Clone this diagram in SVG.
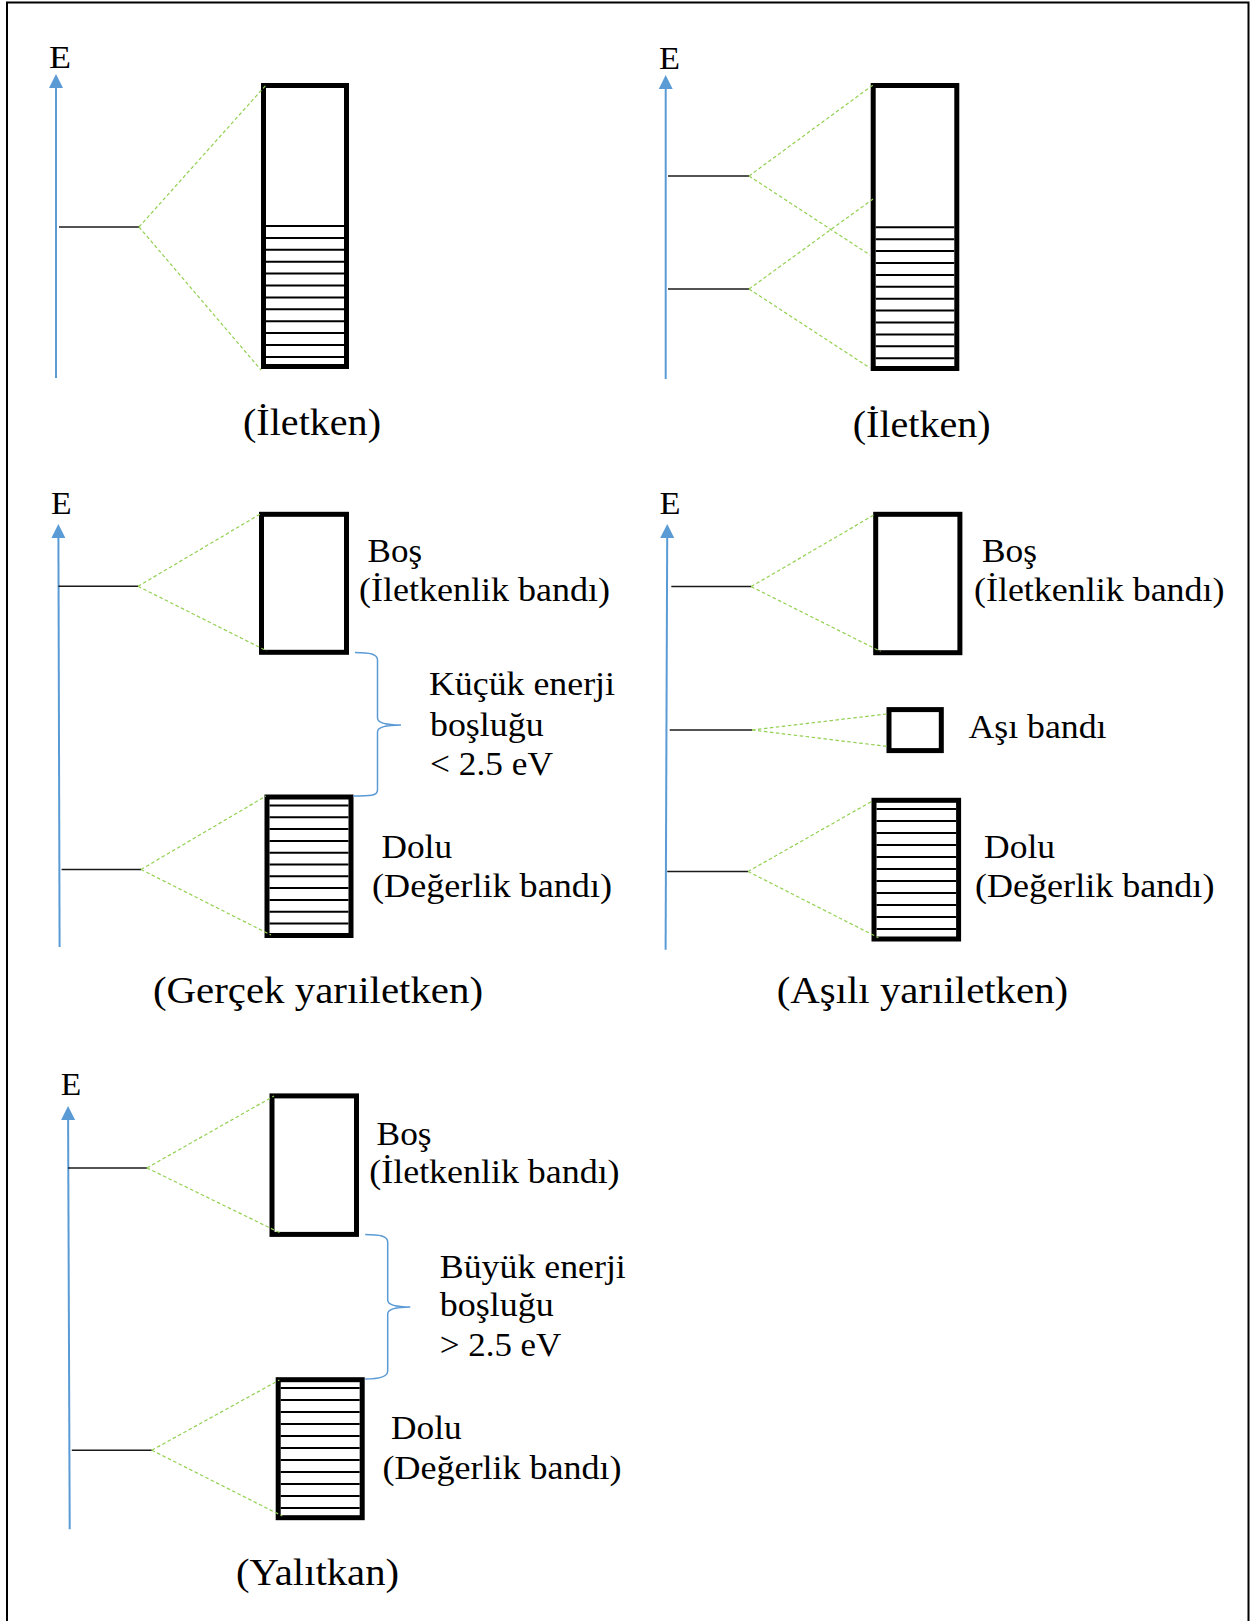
<svg xmlns="http://www.w3.org/2000/svg" width="1250" height="1621" viewBox="0 0 1250 1621">
<style>
text{font-family:"Liberation Serif","Times New Roman",serif;fill:#000}
.e{font-size:31px}
.lab{font-size:34px}
.ttl{font-size:38px}
.axis{stroke:#5B9BD5;stroke-width:2;fill:none}
.lvl{stroke:#1a1a1a;stroke-width:1.5}
.band{fill:#fff;stroke:#000;stroke-width:5}
.hat{stroke:#000;stroke-width:2}
.dash{stroke:#92D050;stroke-width:1.2;stroke-dasharray:3.5 2.5;fill:none}
.brace{stroke:#5B9BD5;stroke-width:1.5;fill:none}
</style>
<defs>
<marker id="arr" markerUnits="userSpaceOnUse" markerWidth="14" markerHeight="14" viewBox="0 0 14 14" refX="0" refY="7" orient="auto">
<path d="M0,0 L14,7 L0,14 z" fill="#5B9BD5"/>
</marker>
</defs>
<rect x="0" y="0" width="1250" height="1621" fill="#fff"/>
<path d="M7,1621 L7,2.5 L1248.5,2.5 L1248.5,1621" fill="none" stroke="#000" stroke-width="2"/>

<!-- Panel 1 -->
<g id="p1-axis">
<line class="axis" x1="56" y1="378" x2="56" y2="88" marker-end="url(#arr)"/>
<text class="e" x="49" y="68" textLength="22" lengthAdjust="spacingAndGlyphs">E</text>
</g>
<g id="p1-level"><line class="lvl" x1="59" y1="227" x2="139" y2="227"/></g>
<g id="p1-band">
<rect class="band" x="263.5" y="85.5" width="83" height="281"/>
<g class="hat">
<line x1="266" y1="226" x2="344" y2="226"/><line x1="266" y1="237.9" x2="344" y2="237.9"/><line x1="266" y1="249.8" x2="344" y2="249.8"/><line x1="266" y1="261.7" x2="344" y2="261.7"/><line x1="266" y1="273.6" x2="344" y2="273.6"/><line x1="266" y1="285.5" x2="344" y2="285.5"/><line x1="266" y1="297.4" x2="344" y2="297.4"/><line x1="266" y1="309.3" x2="344" y2="309.3"/><line x1="266" y1="321.2" x2="344" y2="321.2"/><line x1="266" y1="333.1" x2="344" y2="333.1"/><line x1="266" y1="345" x2="344" y2="345"/><line x1="266" y1="356.9" x2="344" y2="356.9"/>
</g>
</g>
<g id="p1-title"><text class="ttl" x="243" y="435" textLength="138" lengthAdjust="spacingAndGlyphs">(İletken)</text></g>

<!-- Panel 2 -->
<g id="p2-axis">
<line class="axis" x1="665.7" y1="379" x2="665.7" y2="89" marker-end="url(#arr)"/>
<text class="e" x="659" y="69" textLength="21" lengthAdjust="spacingAndGlyphs">E</text>
</g>
<g id="p2-level1"><line class="lvl" x1="668" y1="176" x2="749" y2="176"/></g>
<g id="p2-level2"><line class="lvl" x1="668" y1="289" x2="749" y2="289"/></g>
<g id="p2-band">
<rect class="band" x="873.2" y="85.5" width="83.6" height="283"/>
<g class="hat">
<line x1="875.7" y1="227.3" x2="954.3" y2="227.3"/><line x1="875.7" y1="239.2" x2="954.3" y2="239.2"/><line x1="875.7" y1="251.1" x2="954.3" y2="251.1"/><line x1="875.7" y1="263" x2="954.3" y2="263"/><line x1="875.7" y1="274.9" x2="954.3" y2="274.9"/><line x1="875.7" y1="286.8" x2="954.3" y2="286.8"/><line x1="875.7" y1="298.7" x2="954.3" y2="298.7"/><line x1="875.7" y1="310.6" x2="954.3" y2="310.6"/><line x1="875.7" y1="322.5" x2="954.3" y2="322.5"/><line x1="875.7" y1="334.4" x2="954.3" y2="334.4"/><line x1="875.7" y1="346.3" x2="954.3" y2="346.3"/><line x1="875.7" y1="358.2" x2="954.3" y2="358.2"/>
</g>
</g>
<g id="p2-title"><text class="ttl" x="852.7" y="437" textLength="138" lengthAdjust="spacingAndGlyphs">(İletken)</text></g>

<!-- Panel 3 -->
<g id="p3-axis">
<line class="axis" x1="59.6" y1="947" x2="58.4" y2="538" marker-end="url(#arr)"/>
<text class="e" x="51" y="513.6" textLength="20.6" lengthAdjust="spacingAndGlyphs">E</text>
</g>
<g id="p3-level1"><line class="lvl" x1="58.4" y1="586.3" x2="138" y2="586.3"/></g>
<g id="p3-level2"><line class="lvl" x1="61.6" y1="869.5" x2="141" y2="869.5"/></g>
<g id="p3-cond">
<rect class="band" x="261.5" y="514.3" width="85" height="138"/>
<text class="lab" x="367.6" y="562" textLength="54.4" lengthAdjust="spacingAndGlyphs">Boş</text>
<text class="lab" x="359" y="601" textLength="251" lengthAdjust="spacingAndGlyphs">(İletkenlik bandı)</text>
</g>
<g id="p3-gap">
<text class="lab" x="429" y="695" textLength="186" lengthAdjust="spacingAndGlyphs">Küçük enerji</text>
<text class="lab" x="430" y="735.5" textLength="113.6" lengthAdjust="spacingAndGlyphs">boşluğu</text>
<text class="lab" x="430" y="775" textLength="123" lengthAdjust="spacingAndGlyphs">&lt; 2.5 eV</text>
</g>
<g id="p3-val">
<rect class="band" x="267" y="797" width="84" height="138.5"/>
<g class="hat">
<line x1="269.5" y1="805.5" x2="348.5" y2="805.5"/><line x1="269.5" y1="817.3" x2="348.5" y2="817.3"/><line x1="269.5" y1="829.1" x2="348.5" y2="829.1"/><line x1="269.5" y1="840.9" x2="348.5" y2="840.9"/><line x1="269.5" y1="852.7" x2="348.5" y2="852.7"/><line x1="269.5" y1="864.5" x2="348.5" y2="864.5"/><line x1="269.5" y1="876.3" x2="348.5" y2="876.3"/><line x1="269.5" y1="888.1" x2="348.5" y2="888.1"/><line x1="269.5" y1="899.9" x2="348.5" y2="899.9"/><line x1="269.5" y1="911.7" x2="348.5" y2="911.7"/><line x1="269.5" y1="923.5" x2="348.5" y2="923.5"/>
</g>
<text class="lab" x="381.5" y="858.4" textLength="70.5" lengthAdjust="spacingAndGlyphs">Dolu</text>
<text class="lab" x="372" y="897" textLength="240" lengthAdjust="spacingAndGlyphs">(Değerlik bandı)</text>
</g>
<g id="p3-title"><text class="ttl" x="153" y="1003" textLength="330" lengthAdjust="spacingAndGlyphs">(Gerçek yarıiletken)</text></g>

<!-- Panel 4 -->
<g id="p4-axis">
<line class="axis" x1="665.6" y1="949.8" x2="667.2" y2="538" marker-end="url(#arr)"/>
<text class="e" x="659.6" y="513.6" textLength="21" lengthAdjust="spacingAndGlyphs">E</text>
</g>
<g id="p4-level1"><line class="lvl" x1="671.3" y1="586.6" x2="751.2" y2="586.6"/></g>
<g id="p4-level2"><line class="lvl" x1="669.7" y1="730" x2="752" y2="730"/></g>
<g id="p4-level3"><line class="lvl" x1="667.2" y1="871.5" x2="748" y2="871.5"/></g>
<g id="p4-cond">
<rect class="band" x="875.7" y="514.3" width="84.2" height="138.4"/>
<text class="lab" x="982" y="562" textLength="55" lengthAdjust="spacingAndGlyphs">Boş</text>
<text class="lab" x="974" y="601" textLength="250.5" lengthAdjust="spacingAndGlyphs">(İletkenlik bandı)</text>
</g>
<g id="p4-dopant">
<rect class="band" x="889" y="709.6" width="52.3" height="41"/>
<text class="lab" x="968.5" y="738" textLength="138" lengthAdjust="spacingAndGlyphs">Aşı bandı</text>
</g>
<g id="p4-val">
<rect class="band" x="874" y="800.3" width="84.6" height="138.7"/>
<g class="hat">
<line x1="876.5" y1="808.9" x2="956.1" y2="808.9"/><line x1="876.5" y1="820.9" x2="956.1" y2="820.9"/><line x1="876.5" y1="832.9" x2="956.1" y2="832.9"/><line x1="876.5" y1="844.9" x2="956.1" y2="844.9"/><line x1="876.5" y1="856.9" x2="956.1" y2="856.9"/><line x1="876.5" y1="868.9" x2="956.1" y2="868.9"/><line x1="876.5" y1="880.9" x2="956.1" y2="880.9"/><line x1="876.5" y1="892.9" x2="956.1" y2="892.9"/><line x1="876.5" y1="904.9" x2="956.1" y2="904.9"/><line x1="876.5" y1="916.9" x2="956.1" y2="916.9"/><line x1="876.5" y1="928.9" x2="956.1" y2="928.9"/>
</g>
<text class="lab" x="984" y="858.4" textLength="71" lengthAdjust="spacingAndGlyphs">Dolu</text>
<text class="lab" x="975" y="897" textLength="239.4" lengthAdjust="spacingAndGlyphs">(Değerlik bandı)</text>
</g>
<g id="p4-title"><text class="ttl" x="776.7" y="1003" textLength="291.5" lengthAdjust="spacingAndGlyphs">(Aşılı yarıiletken)</text></g>

<!-- Panel 5 -->
<g id="p5-axis">
<line class="axis" x1="69.7" y1="1529.3" x2="68.1" y2="1120" marker-end="url(#arr)"/>
<text class="e" x="60.7" y="1095" textLength="20.5" lengthAdjust="spacingAndGlyphs">E</text>
</g>
<g id="p5-level1"><line class="lvl" x1="68" y1="1167.9" x2="146.9" y2="1167.9"/></g>
<g id="p5-level2"><line class="lvl" x1="71.8" y1="1450.2" x2="151.8" y2="1450.2"/></g>
<g id="p5-cond">
<rect class="band" x="272" y="1095.9" width="84.5" height="138.5"/>
<text class="lab" x="376.6" y="1144.5" textLength="55" lengthAdjust="spacingAndGlyphs">Boş</text>
<text class="lab" x="369.3" y="1183" textLength="250.3" lengthAdjust="spacingAndGlyphs">(İletkenlik bandı)</text>
</g>
<g id="p5-gap">
<text class="lab" x="439.8" y="1277.6" textLength="186" lengthAdjust="spacingAndGlyphs">Büyük enerji</text>
<text class="lab" x="439.8" y="1316.4" textLength="114" lengthAdjust="spacingAndGlyphs">boşluğu</text>
<text class="lab" x="439.8" y="1355.6" textLength="121.5" lengthAdjust="spacingAndGlyphs">&gt; 2.5 eV</text>
</g>
<g id="p5-val">
<rect class="band" x="278.2" y="1379.7" width="84" height="138"/>
<g class="hat">
<line x1="280.7" y1="1388" x2="359.7" y2="1388"/><line x1="280.7" y1="1400" x2="359.7" y2="1400"/><line x1="280.7" y1="1412" x2="359.7" y2="1412"/><line x1="280.7" y1="1424" x2="359.7" y2="1424"/><line x1="280.7" y1="1436" x2="359.7" y2="1436"/><line x1="280.7" y1="1448" x2="359.7" y2="1448"/><line x1="280.7" y1="1460" x2="359.7" y2="1460"/><line x1="280.7" y1="1472" x2="359.7" y2="1472"/><line x1="280.7" y1="1484" x2="359.7" y2="1484"/><line x1="280.7" y1="1496" x2="359.7" y2="1496"/><line x1="280.7" y1="1508" x2="359.7" y2="1508"/>
</g>
<text class="lab" x="391" y="1439.4" textLength="70.6" lengthAdjust="spacingAndGlyphs">Dolu</text>
<text class="lab" x="382.4" y="1479" textLength="239.2" lengthAdjust="spacingAndGlyphs">(Değerlik bandı)</text>
</g>
<g id="p5-title"><text class="ttl" x="236" y="1585" textLength="163" lengthAdjust="spacingAndGlyphs">(Yalıtkan)</text></g>

<!-- Connectors -->
<g id="connectors">
<line class="dash" x1="139" y1="227" x2="267" y2="84"/>
<line class="dash" x1="139" y1="227" x2="261" y2="370"/>
<line class="dash" x1="749" y1="176" x2="873" y2="85"/>
<line class="dash" x1="749" y1="176" x2="870" y2="255"/>
<line class="dash" x1="749" y1="289" x2="873" y2="199"/>
<line class="dash" x1="749" y1="289" x2="870" y2="368"/>
<line class="dash" x1="138" y1="586.3" x2="262" y2="513"/>
<line class="dash" x1="138" y1="586.3" x2="267" y2="651"/>
<line class="dash" x1="141" y1="869.5" x2="266" y2="796"/>
<line class="dash" x1="141" y1="869.5" x2="271" y2="935"/>
<line class="dash" x1="751.2" y1="586.6" x2="875.6" y2="514"/>
<line class="dash" x1="751.2" y1="586.6" x2="880.5" y2="651.4"/>
<line class="dash" x1="752" y1="730" x2="886.5" y2="714"/>
<line class="dash" x1="752" y1="730" x2="888.5" y2="746.6"/>
<line class="dash" x1="748" y1="871.5" x2="872.4" y2="801"/>
<line class="dash" x1="748" y1="871.5" x2="878.4" y2="937.7"/>
<line class="dash" x1="146.9" y1="1167.9" x2="274" y2="1096"/>
<line class="dash" x1="146.9" y1="1167.9" x2="281" y2="1233.3"/>
<line class="dash" x1="151.8" y1="1450.2" x2="279.4" y2="1380"/>
<line class="dash" x1="151.8" y1="1450.2" x2="282.3" y2="1516"/>
<path class="brace" d="M355,652.4 C370,652.4 377.5,654 377.5,660 L377.5,718 C377.5,722 384,725 401,725 C384,725 377.5,728 377.5,732 L377.5,790 C377.5,796 370,796 353,796"/>
<path class="brace" d="M365.2,1234.4 C380,1234.4 387.7,1236 387.7,1242 L387.7,1300 C387.7,1304 394,1307 410.3,1307 C394,1307 387.7,1310 387.7,1314 L387.7,1371 C387.7,1377 380,1379 365.2,1379"/>
</g>
</svg>
